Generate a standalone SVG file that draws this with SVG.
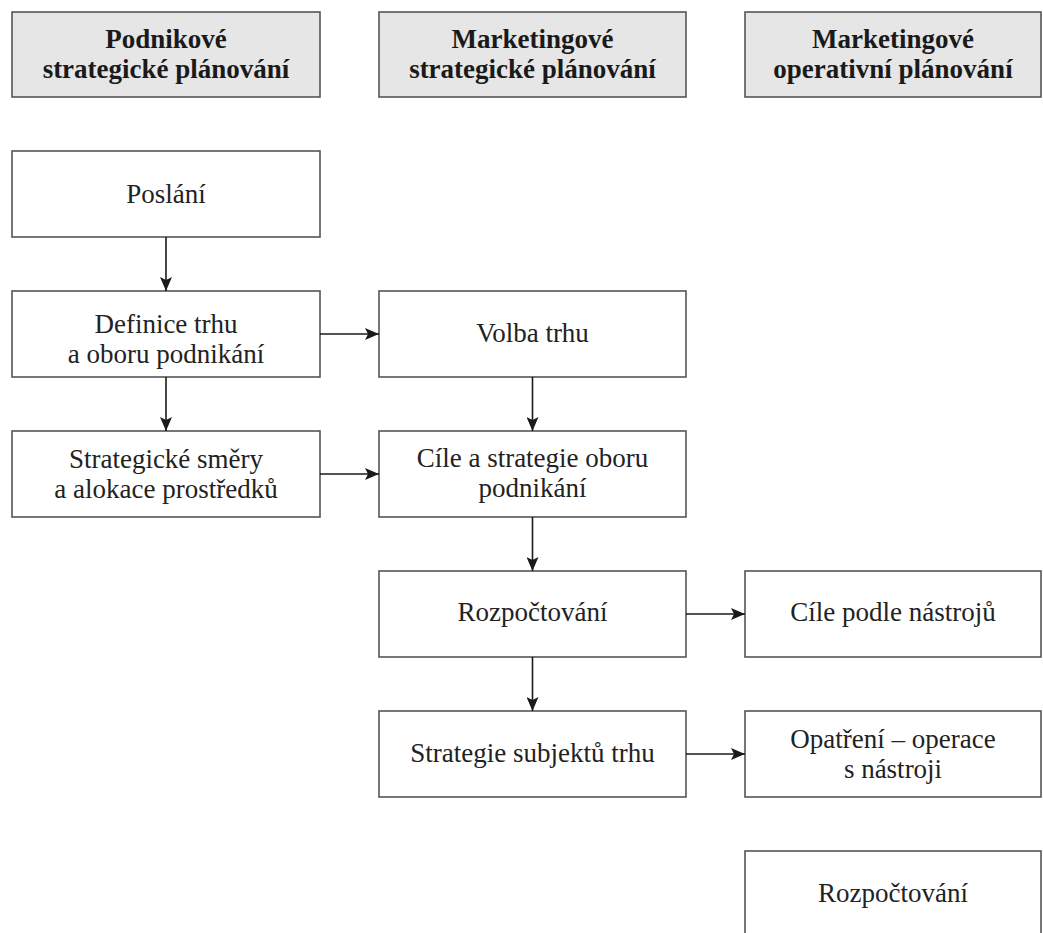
<svg xmlns="http://www.w3.org/2000/svg" width="1043" height="933" viewBox="0 0 1043 933">
<defs>
<style>
.box{fill:#ffffff;stroke:#555555;stroke-width:1.6}
.hdr{fill:#e6e6e6;stroke:#555555;stroke-width:1.6}
.t{font-family:"Liberation Serif","Times New Roman",serif;font-size:27px;fill:#222222;text-anchor:middle}
.h{font-family:"Liberation Serif","Times New Roman",serif;font-size:27px;font-weight:bold;fill:#1a1a1a;text-anchor:middle}
.c{stroke:#1a1a1a;stroke-width:1.6;fill:none;marker-end:url(#ah)}
</style>
<marker id="ah" markerUnits="userSpaceOnUse" markerWidth="14" markerHeight="12" refX="14" refY="6" orient="auto">
<path d="M0,0 L14,6 L0,12 L3,6 z" fill="#1a1a1a"/>
</marker>
</defs>
<rect width="1043" height="933" fill="#ffffff"/>
<g id="h1"><rect class="hdr" x="12" y="12" width="308" height="85"/><text class="h" x="166" y="48">Podnikové</text><text class="h" x="166" y="78">strategické plánování</text></g>
<g id="h2"><rect class="hdr" x="379" y="12" width="307" height="85"/><text class="h" x="532.5" y="48">Marketingové</text><text class="h" x="532.5" y="78">strategické plánování</text></g>
<g id="h3"><rect class="hdr" x="745" y="12" width="296" height="85"/><text class="h" x="893" y="48">Marketingové</text><text class="h" x="893" y="78">operativní plánování</text></g>
<g id="n-poslani"><rect class="box" x="12" y="151" width="308" height="86"/><text class="t" x="166" y="203">Poslání</text></g>
<g id="n-definice"><rect class="box" x="12" y="291" width="308" height="86"/><text class="t" x="166" y="333">Definice trhu</text><text class="t" x="166" y="363">a oboru podnikání</text></g>
<g id="n-smery"><rect class="box" x="12" y="431" width="308" height="86"/><text class="t" x="166" y="468">Strategické směry</text><text class="t" x="166" y="498">a alokace prostředků</text></g>
<g id="n-volba"><rect class="box" x="379" y="291" width="307" height="86"/><text class="t" x="532.5" y="342">Volba trhu</text></g>
<g id="n-cile"><rect class="box" x="379" y="431" width="307" height="86"/><text class="t" x="532.5" y="467">Cíle a strategie oboru</text><text class="t" x="532.5" y="497">podnikání</text></g>
<g id="n-rozpocet1"><rect class="box" x="379" y="571" width="307" height="86"/><text class="t" x="532.5" y="621">Rozpočtování</text></g>
<g id="n-subjekty"><rect class="box" x="379" y="711" width="307" height="86"/><text class="t" x="532.5" y="762">Strategie subjektů trhu</text></g>
<g id="n-nastroje"><rect class="box" x="745" y="571" width="296" height="86"/><text class="t" x="893" y="621">Cíle podle nástrojů</text></g>
<g id="n-opatreni"><rect class="box" x="745" y="711" width="296" height="86"/><text class="t" x="893" y="748">Opatření – operace</text><text class="t" x="893" y="778">s nástroji</text></g>
<g id="n-rozpocet2"><rect class="box" x="745" y="851" width="296" height="100"/><text class="t" x="893" y="902">Rozpočtování</text></g>
<g id="connectors">
<line class="c" x1="166" y1="237" x2="166" y2="291"/>
<line class="c" x1="166" y1="377" x2="166" y2="431"/>
<line class="c" x1="320" y1="334" x2="379" y2="334"/>
<line class="c" x1="320" y1="474" x2="379" y2="474"/>
<line class="c" x1="532.5" y1="377" x2="532.5" y2="431"/>
<line class="c" x1="532.5" y1="517" x2="532.5" y2="571"/>
<line class="c" x1="532.5" y1="657" x2="532.5" y2="711"/>
<line class="c" x1="686" y1="614" x2="745" y2="614"/>
<line class="c" x1="686" y1="754" x2="745" y2="754"/>
</g>
</svg>
